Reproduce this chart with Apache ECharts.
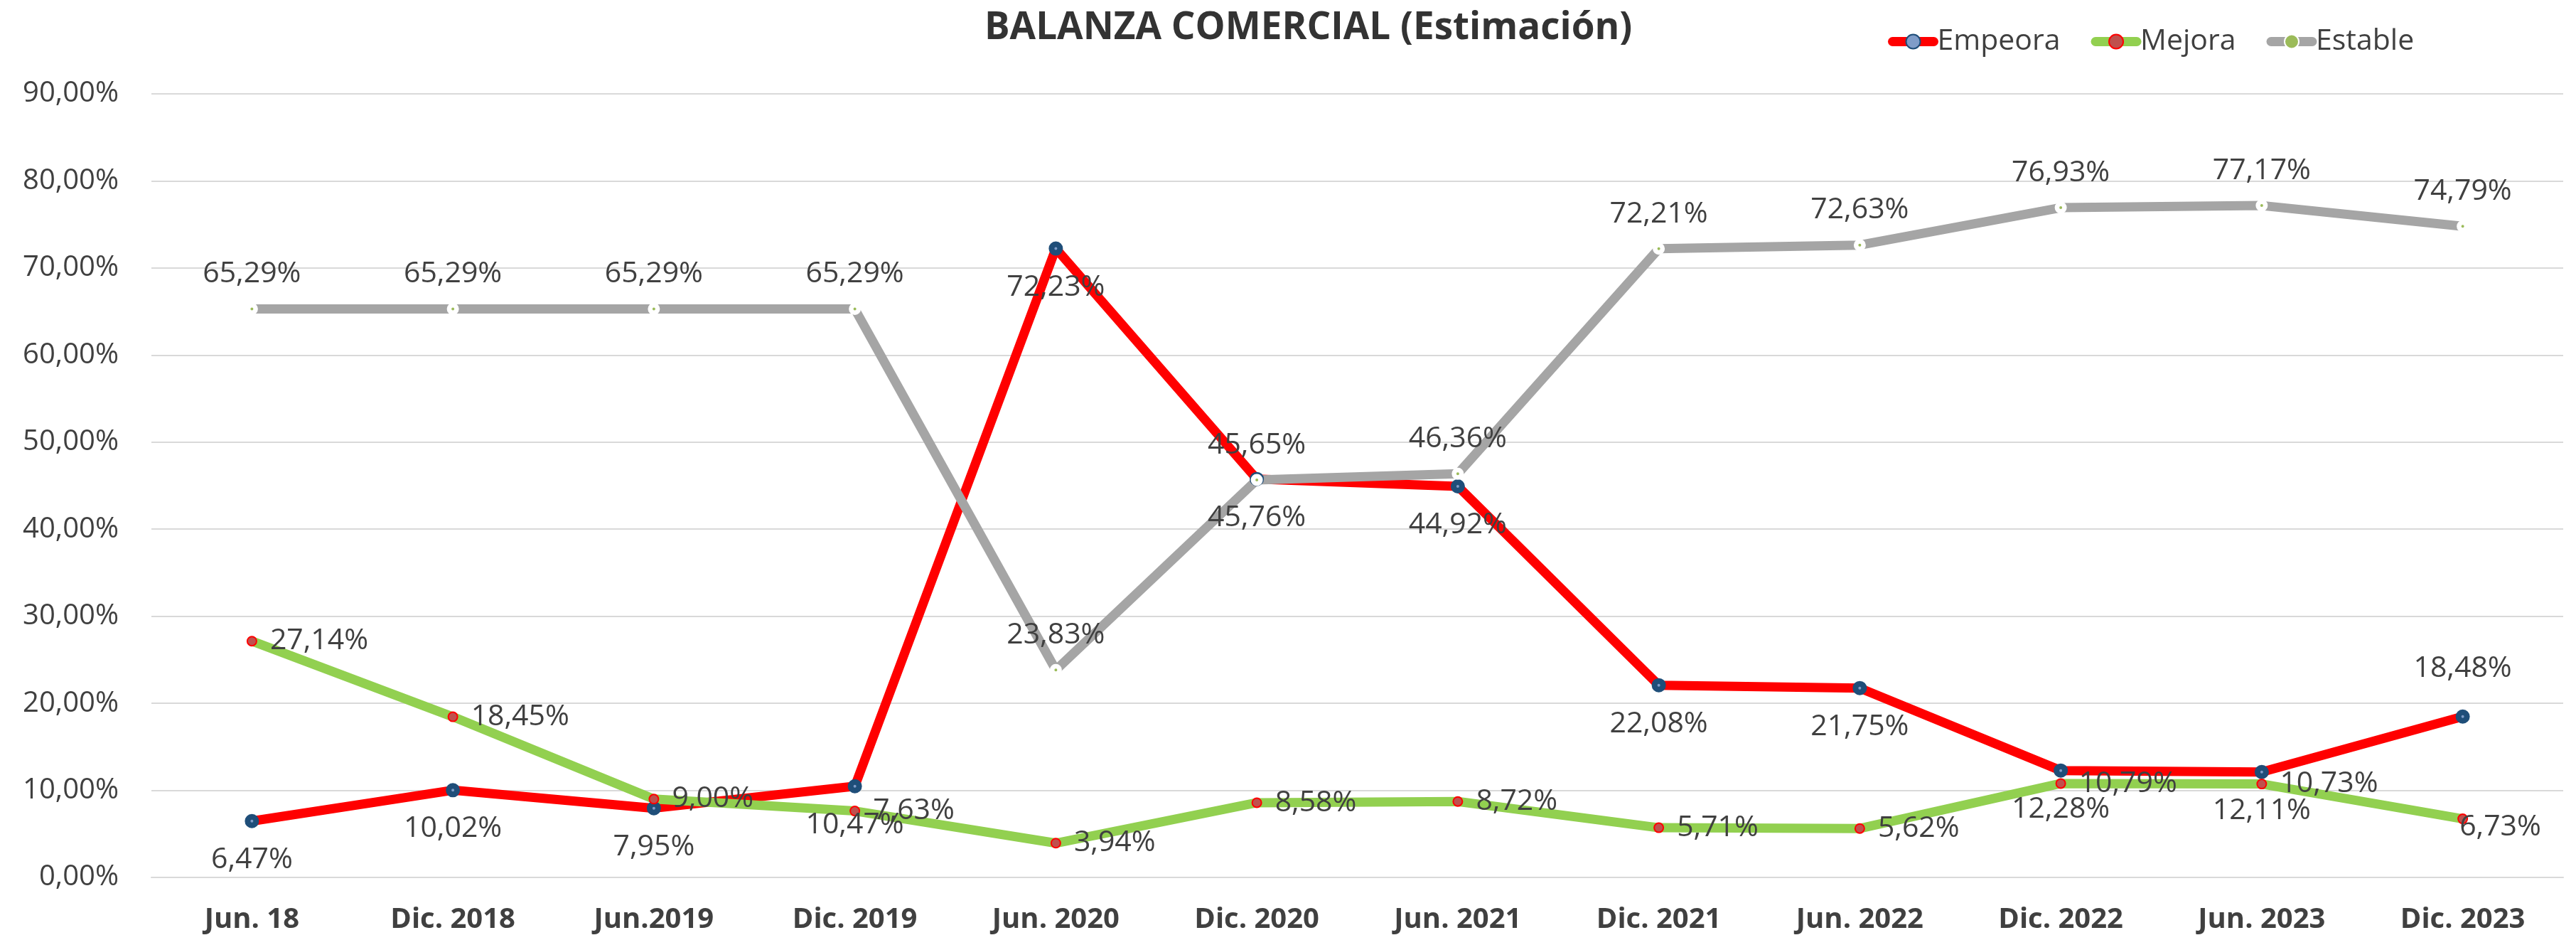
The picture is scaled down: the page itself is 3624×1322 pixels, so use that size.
<!DOCTYPE html>
<html>
<head>
<meta charset="utf-8">
<script src="https://cdn.jsdelivr.net/npm/echarts@6/dist/echarts.min.js"></script>
<style>
  html, body { margin: 0; padding: 0; background: #fff; }
  #chart { width: 3624px; height: 1322px; }
</style>
</head>
<body>
<div id="chart"></div>
<script>
var categories = ['Jun. 18', 'Dic. 2018', 'Jun.2019', 'Dic. 2019', 'Jun. 2020', 'Dic. 2020',
    'Jun. 2021', 'Dic. 2021', 'Jun. 2022', 'Dic. 2022', 'Jun. 2023', 'Dic. 2023'];
var empeora = [6.47, 10.02, 7.95, 10.47, 72.23, 45.76, 44.92, 22.08, 21.75, 12.28, 12.11, 18.48];
var mejora = [27.14, 18.45, 9.00, 7.63, 3.94, 8.58, 8.72, 5.71, 5.62, 10.79, 10.73, 6.73];
var estable = [65.29, 65.29, 65.29, 65.29, 23.83, 45.65, 46.36, 72.21, 72.63, 76.93, 77.17, 74.79];

var FONT = 'Open Sans';
var TEXT = '#404040';

function pct(v) {
    return v.toFixed(2).replace('.', ',') + '%';
}

var myChart = echarts.init(document.getElementById('chart'));

// ultimo punto: etiquetas movidas como en el original
var empeoraData = empeora.map(function (v, i) {
    if (i === empeora.length - 1) {
        return { value: v, label: { position: 'top', distance: 37 } };
    }
    return v;
});
var mejoraData = mejora.map(function (v, i) {
    if (i === mejora.length - 1) {
        return { value: v, label: { offset: [-30, 12] } };
    }
    return v;
});

var labelBase = {
    show: true,
    fontFamily: FONT,
    fontSize: 41,
    color: TEXT,
    formatter: function (p) { return pct(p.value); }
};

var option = {
    backgroundColor: '#fff',
    animation: false,
    title: {
        text: 'BALANZA COMERCIAL (Estimación)',
        left: 1380,
        top: 8,
        textStyle: {
            fontFamily: FONT,
            fontSize: 53,
            fontWeight: 'bold',
            color: '#333'
        }
    },
    legend: {
        left: 2651,
        top: 33,
        itemWidth: 58,
        itemHeight: 25,
        itemGap: 43,
        lineStyle: { width: 13, cap: 'round' },
        textStyle: { fontFamily: FONT, fontSize: 41, color: TEXT },
        data: ['Empeora', 'Mejora', 'Estable']
    },
    grid: {
        left: 213,
        right: 18,
        top: 132,
        bottom: 88,
        outerBoundsMode: 'none'
    },
    xAxis: {
        type: 'category',
        data: categories,
        boundaryGap: true,
        axisLine: { lineStyle: { color: '#D9D9D9', width: 2 } },
        axisTick: { show: false },
        axisLabel: {
            margin: 40,
            fontFamily: FONT,
            fontSize: 40,
            fontWeight: 'bold',
            color: TEXT,
            interval: 0
        }
    },
    yAxis: {
        type: 'value',
        min: 0,
        max: 90,
        interval: 10,
        axisLine: { show: false },
        axisTick: { show: false },
        splitLine: { lineStyle: { color: '#D9D9D9', width: 2 } },
        axisLabel: {
            margin: 46,
            fontFamily: FONT,
            fontSize: 40,
            color: TEXT,
            formatter: function (v) { return pct(v); }
        }
    },
    series: [
        {
            name: 'Empeora',
            type: 'line',
            data: empeoraData,
            symbol: 'circle',
            symbolSize: 12,
            lineStyle: { color: '#FF0000', width: 13, cap: 'round', join: 'round' },
            itemStyle: { color: '#7F9CC8', borderColor: '#1F4E79', borderWidth: 8 },
            label: Object.assign({}, labelBase, { position: 'bottom', distance: 24 })
        },
        {
            name: 'Mejora',
            type: 'line',
            data: mejoraData,
            symbol: 'circle',
            symbolSize: 13,
            lineStyle: { color: '#92D050', width: 13, cap: 'round', join: 'round' },
            itemStyle: { color: '#C0504D', borderColor: '#FF0000', borderWidth: 2 },
            label: Object.assign({}, labelBase, { position: 'right', distance: 18 })
        },
        {
            name: 'Estable',
            type: 'line',
            data: estable,
            symbol: 'circle',
            symbolSize: 10.5,
            lineStyle: { color: '#A5A5A5', width: 13, cap: 'round', join: 'round' },
            itemStyle: { color: '#9BBB59', borderColor: '#FFFFFF', borderWidth: 6.5 },
            label: Object.assign({}, labelBase, { position: 'top', distance: 20 })
        }
    ]
};

myChart.setOption(option);

window.addEventListener('resize', function () {
    myChart.resize();
});
</script>
</body>
</html>
